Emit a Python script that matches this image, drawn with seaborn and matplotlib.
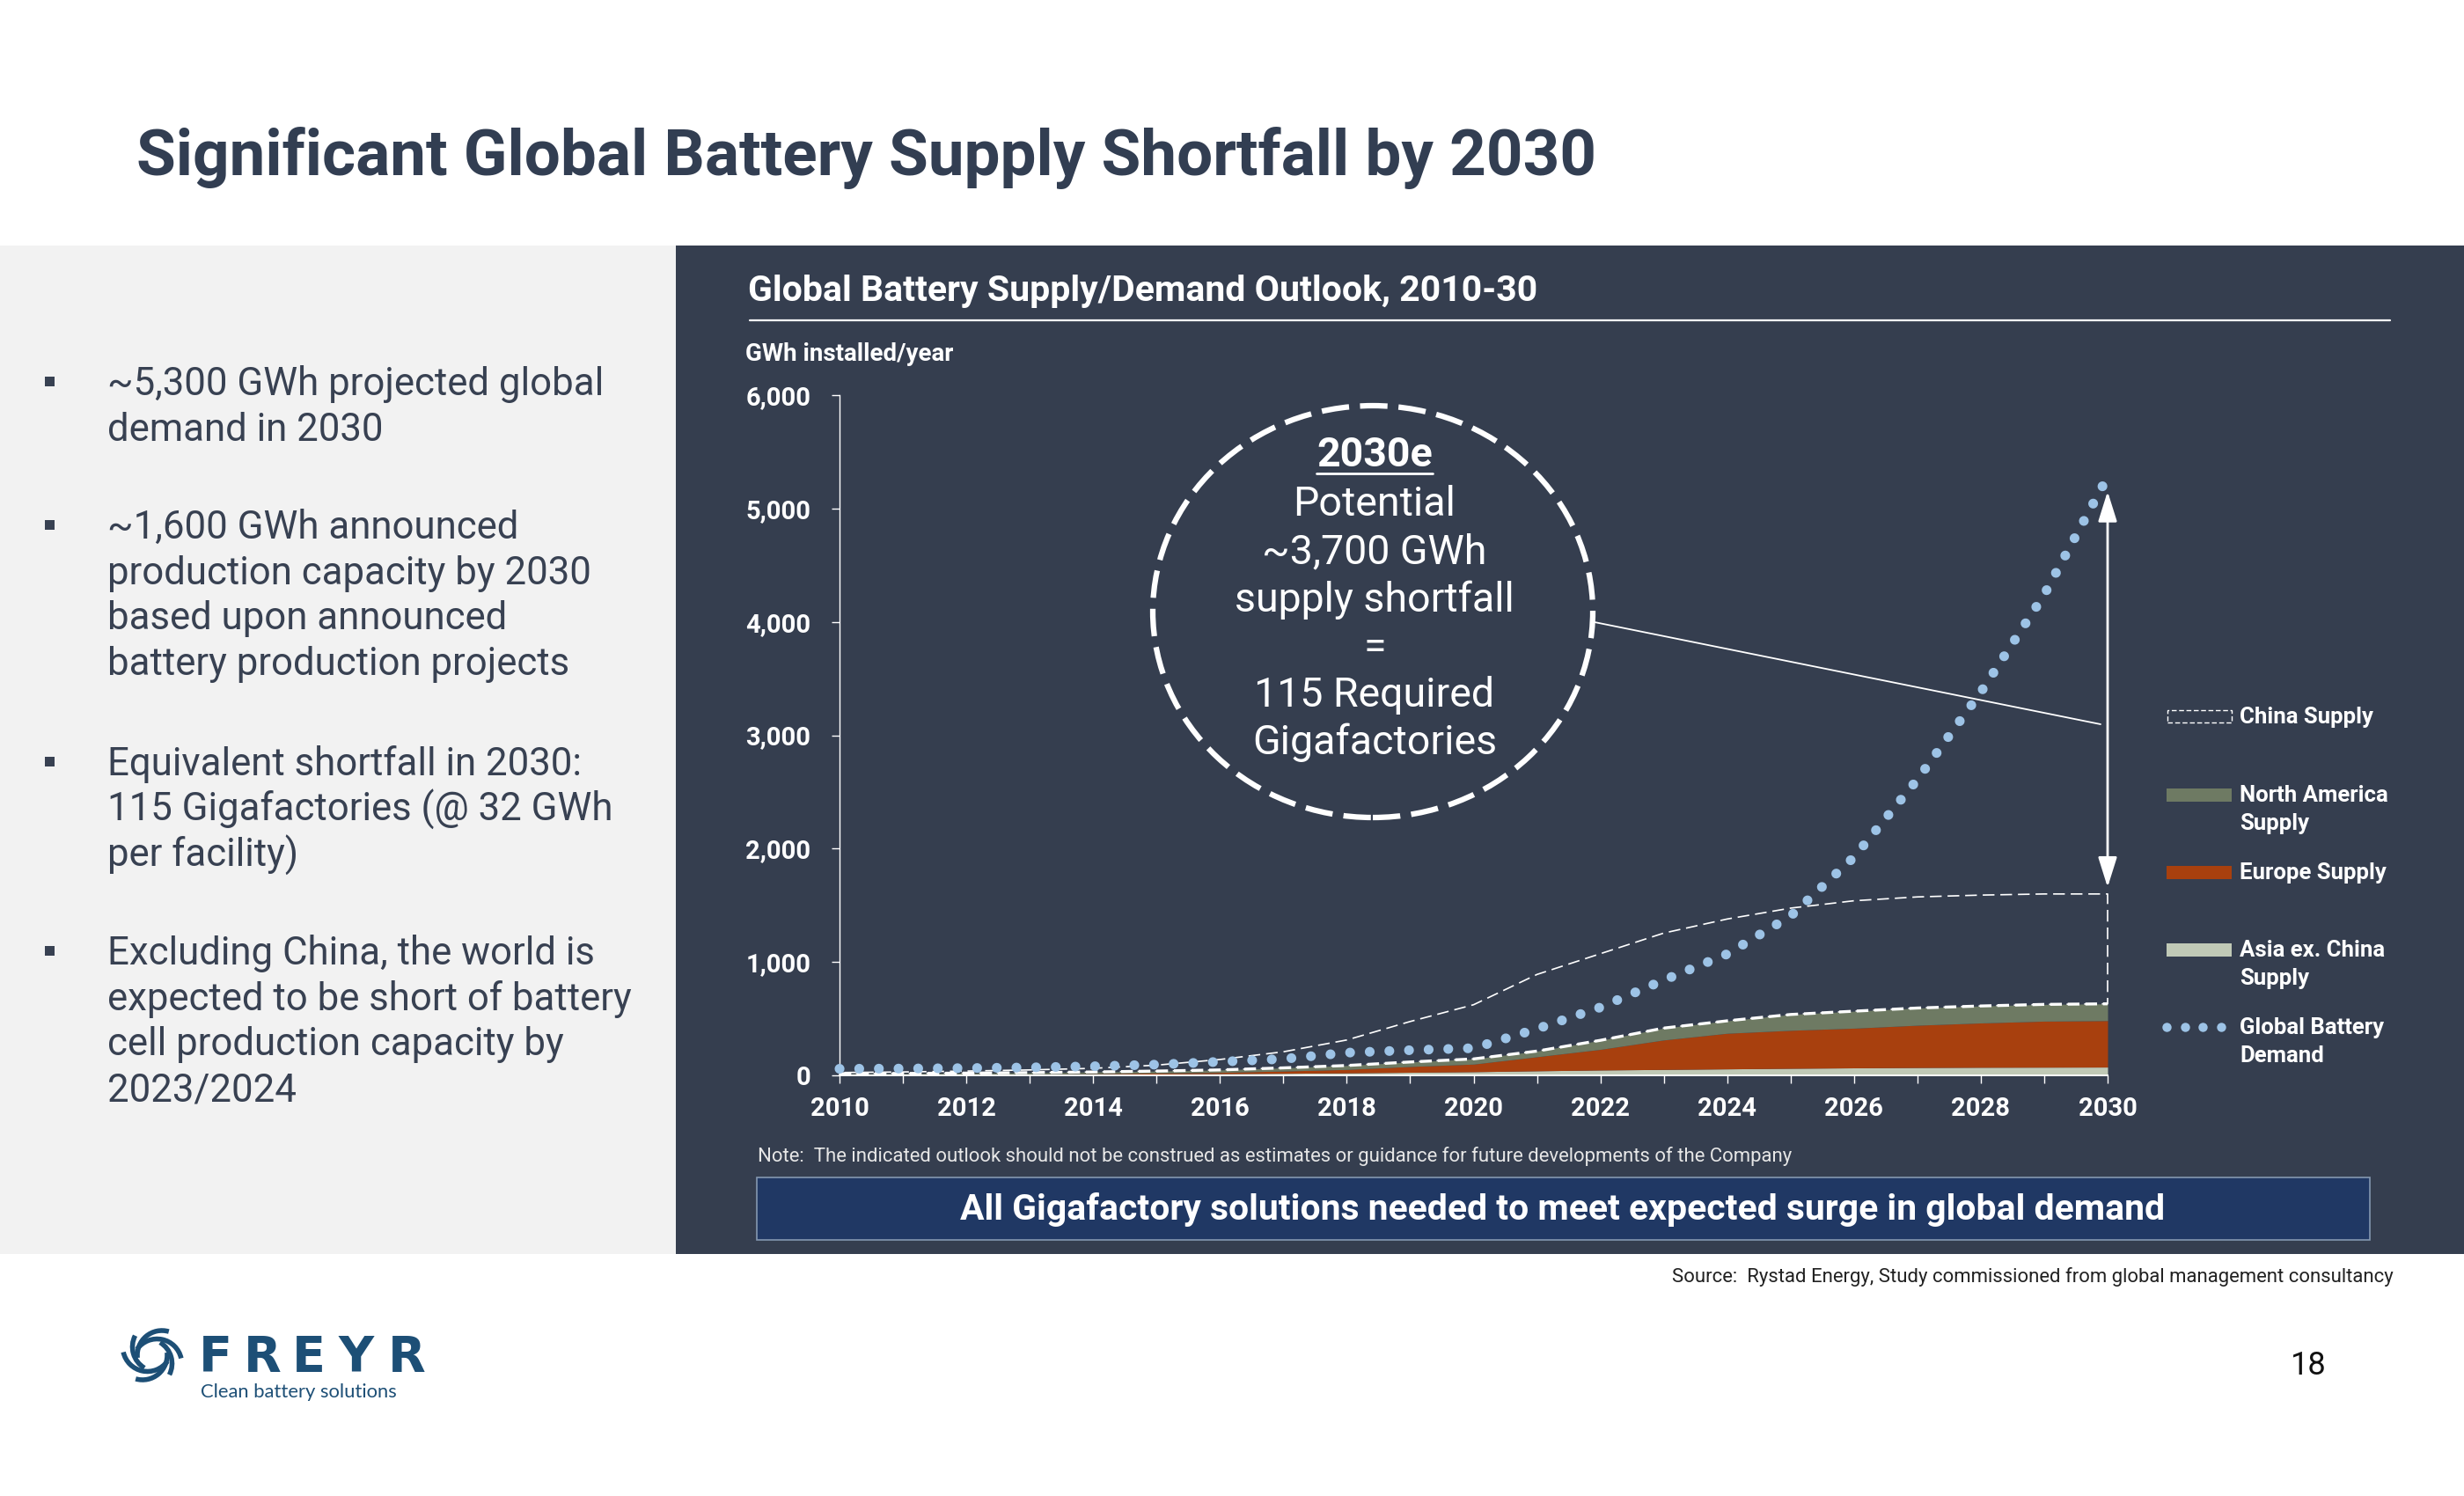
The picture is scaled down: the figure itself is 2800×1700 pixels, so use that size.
import numpy as np
import matplotlib
matplotlib.use('Agg')
import matplotlib.pyplot as plt
import seaborn as sns
from matplotlib.patches import Rectangle, Ellipse, Arc
from matplotlib.lines import Line2D
from matplotlib.ticker import FuncFormatter

# --- Data (GWh installed/year) ---
years = list(range(2010, 2031))
asia_supply = [5, 6, 7, 8, 10, 12, 15, 18, 22, 27, 32, 40, 47, 52, 57, 62, 66, 69, 71, 72, 73]
europe_supply = [2, 2, 3, 4, 5, 8, 11, 20, 30, 51, 67, 124, 182, 260, 314, 335, 350, 373, 391, 406, 410]
na_supply = [8, 9, 10, 12, 15, 18, 22, 28, 35, 40, 46, 50, 80, 105, 110, 140, 150, 152, 150, 148, 148]
china_supply = [10, 13, 18, 24, 32, 52, 92, 142, 225, 357, 478, 676, 764, 838, 898, 938, 974, 980, 978, 974, 969]
global_demand = [58, 60, 64, 70, 80, 95, 120, 145, 200, 222, 240, 410, 600, 840, 1070, 1405, 1925, 2610,
                 3380, 4240, 5280]

legend_labels = [['China Supply'], ['North America', 'Supply'], ['Europe Supply'],
                 ['Asia ex. China', 'Supply'], ['Global Battery', 'Demand']]

bullets = [
    ['~5,300 GWh projected global', 'demand in 2030'],
    ['~1,600 GWh announced', 'production capacity by 2030', 'based upon announced',
     'battery production projects'],
    ['Equivalent shortfall in 2030:', '115 Gigafactories (@ 32 GWh', 'per facility)'],
    ['Excluding China, the world is', 'expected to be short of battery', 'cell production capacity by',
     '2023/2024'],
]
callout_lines = ['Potential', '~3,700 GWh', 'supply shortfall', '=', '115 Required', 'Gigafactories']

# --- Colours ---
DARK_BG = '#353e4f'
LIGHT_BG = '#f2f2f2'
TITLE_C = '#323e52'
TEXT_C = '#384152'
ASIA_C = '#c0c9b6'
EUROPE_C = '#a8400e'
NA_C = '#6e7a63'
DEMAND_C = '#9dc3e6'
BANNER_C = '#203864'
LOGO_C = '#1d4f76'

sns.set_theme(style='white')
plt.rcParams['font.family'] = ['Roboto', 'DejaVu Sans']

W, H = 2800, 1700


def fx(x):
    return x / W


def fy(y):
    return 1 - y / H


def ftext(x, y, s, **kw):
    kw.setdefault('va', 'baseline')
    return fig.text(fx(x), fy(y), s, **kw)


fig = plt.figure(figsize=(28, 17), dpi=100, facecolor='white')

# background panels
fig.add_artist(Rectangle((0, fy(1425)), fx(768), (1425 - 279) / H, transform=fig.transFigure,
                         facecolor=LIGHT_BG, edgecolor='none', zorder=-5))
fig.add_artist(Rectangle((fx(768), fy(1425)), 1 - fx(768), (1425 - 279) / H, transform=fig.transFigure,
                         facecolor=DARK_BG, edgecolor='none', zorder=-5))

# slide title
ftext(155, 199, 'Significant Global Battery Supply Shortfall by 2030', fontsize=52.5, fontweight='bold',
      color=TITLE_C)

# left bullets
bullet_starts = [449, 612, 881, 1096]
for start, lines in zip(bullet_starts, bullets):
    fig.add_artist(Rectangle((fx(51), fy(start - 10)), 11 / W, 11 / H, transform=fig.transFigure,
                             facecolor=TEXT_C, edgecolor='none'))
    for k, line in enumerate(lines):
        ftext(122, start + k * 51.7, line, fontsize=31.5, color=TEXT_C)

# chart header
ftext(850, 342, 'Global Battery Supply/Demand Outlook, 2010-30', fontsize=29.5, fontweight='bold',
      color='white')
fig.add_artist(Line2D([fx(852), fx(2716)], [fy(364), fy(364)], transform=fig.transFigure,
                      color='white', lw=1.6))
ftext(847, 410, 'GWh installed/year', fontsize=20, fontweight='bold', color='white')

# --- Main chart ---
ax = fig.add_axes([fx(954), fy(1222), fx(2395) - fx(954), (1222 - 449) / H])
ax.set_facecolor('none')

polys = ax.stackplot(years, asia_supply, europe_supply, na_supply, china_supply,
                     colors=[ASIA_C, EUROPE_C, NA_C, 'none'], lw=0, zorder=2)
polys[3].set_facecolor('none')
polys[3].set_edgecolor('white')
polys[3].set_linewidth(1.2)
polys[3].set_linestyle((0, (8, 4)))
polys[3].set_clip_on(False)

na_top = np.array(asia_supply) + np.array(europe_supply) + np.array(na_supply)
sns.lineplot(x=years, y=na_top, ax=ax, color='white', lw=2.4, linestyle=(0, (4, 2)), zorder=3)

sns.lineplot(x=years, y=global_demand, ax=ax, color=DEMAND_C, lw=8, linestyle=(0, (0.01, 2.0)),
             dash_capstyle='round', clip_on=False, zorder=4)

ax.annotate('', xy=(2030, 5150), xytext=(2030, 1660),
            arrowprops=dict(arrowstyle='<|-|>,head_length=0.7,head_width=0.22', color='white', lw=2,
                            mutation_scale=30, shrinkA=0, shrinkB=0), annotation_clip=False)

ax.set_xlim(2010, 2030)
ax.set_ylim(0, 6000)
ax.set_xlabel('')
ax.set_ylabel('')
for s in ['top', 'right']:
    ax.spines[s].set_visible(False)
ax.spines['left'].set_color('white')
ax.spines['left'].set_linewidth(1)
ax.spines['bottom'].set_color('white')
ax.spines['bottom'].set_linewidth(1.4)
ax.set_yticks(range(0, 6001, 1000))
ax.yaxis.set_major_formatter(FuncFormatter(lambda v, p: f'{int(v):,}'))
ax.set_xticks(range(2010, 2031, 2))
ax.set_xticks(range(2011, 2030, 2), minor=True)
ax.tick_params(axis='both', which='both', colors='white', direction='out', length=6.5, width=1,
               left=True, bottom=True)
ax.tick_params(axis='y', pad=17, labelsize=21)
ax.tick_params(axis='x', pad=11, labelsize=21)
for lab in ax.get_xticklabels() + ax.get_yticklabels():
    lab.set_fontweight('bold')
ax.grid(False)

# callout circle
fig.add_artist(Ellipse((fx(1560), fy(695)), 2 * 250 / W, 2 * 234 / H, transform=fig.transFigure,
                       fill=False, edgecolor='white', lw=4.5, linestyle=(0, (5, 2)), zorder=6))
ftext(1562, 530, '2030e', fontsize=33.5, fontweight='bold', color='white', ha='center')
fig.add_artist(Line2D([fx(1496), fx(1628)], [fy(538), fy(538)], transform=fig.transFigure,
                      color='white', lw=2))
for k, line in enumerate(callout_lines):
    ftext(1562, 586 + k * 54.3, line, fontsize=33.5, color='white', ha='center')
fig.add_artist(Line2D([fx(1812), fx(2387)], [fy(707), fy(823)], transform=fig.transFigure,
                      color='white', lw=1.3, zorder=6))

# legend
legend_y = [814, 903, 991, 1079, 1167]
for k, (yc, lines) in enumerate(zip(legend_y, legend_labels)):
    if k == 0:
        fig.add_artist(Rectangle((fx(2463), fy(yc + 7)), 73 / W, 14 / H, transform=fig.transFigure,
                                 facecolor='none', edgecolor='white', lw=1, linestyle=(0, (4, 2))))
    elif k < 4:
        col = [NA_C, EUROPE_C, ASIA_C][k - 1]
        fig.add_artist(Rectangle((fx(2462), fy(yc + 7.5)), 74 / W, 15 / H, transform=fig.transFigure,
                                 facecolor=col, edgecolor='none'))
    else:
        xs = [fx(2462 + 20.6 * i) for i in range(4)]
        fig.add_artist(Line2D(xs, [fy(yc)] * 4, transform=fig.transFigure, marker='o', ls='none',
                              ms=7.5, color=DEMAND_C, markeredgewidth=0))
    for j, line in enumerate(lines):
        ftext(2545, yc + 8 + j * 32, line, fontsize=18.5, fontweight='bold', color='white')

# note and banner
ftext(861, 1320, 'Note:  The indicated outlook should not be construed as estimates or guidance for '
                 'future developments of the Company', fontsize=15.9, color='#e6e6e6')
fig.add_artist(Rectangle((fx(860), fy(1409)), (2693 - 860) / W, (1409 - 1338) / H,
                         transform=fig.transFigure, facecolor=BANNER_C, edgecolor='#8497b0', lw=1.2))
ftext(1776, 1374, 'All Gigafactory solutions needed to meet expected surge in global demand',
      fontsize=29.4, fontweight='bold', color='white', ha='center', va='center')

# footer
ftext(2720, 1457, 'Source:  Rystad Energy, Study commissioned from global management consultancy',
      fontsize=15.9, color='#222222', ha='right')
ftext(2623, 1562, '18', fontsize=26, color='#111111', ha='center')

# logo: swirl of curved blades plus the word mark
for k in range(6):
    a = np.deg2rad(k * 60)
    cx, cy = 173 + 11 * np.cos(a), 1540 - 11 * np.sin(a)
    fig.add_artist(Arc((fx(cx), fy(cy)), 2 * 28 / W, 2 * 28 / H, theta1=k * 60 + 80, theta2=k * 60 + 190,
                       transform=fig.transFigure, color=LOGO_C, lw=4))
logo_x = [245, 298, 351, 405, 462]
for x, letter in zip(logo_x, 'FREYR'):
    ftext(x, 1558, letter, fontsize=40, fontweight='bold', color=LOGO_C, ha='center',
          family='DejaVu Sans')
ftext(228, 1588, 'Clean battery solutions', fontsize=15.8, color=LOGO_C, family=['Lato', 'DejaVu Sans'])

fig.savefig('out.png', dpi=100, facecolor='white')
